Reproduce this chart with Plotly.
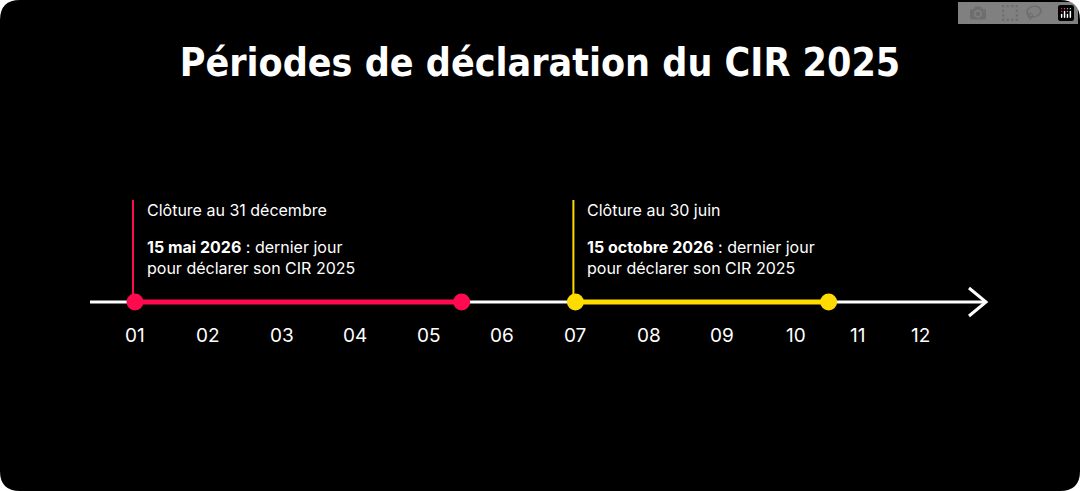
import plotly.graph_objects as go

months = ["01","02","03","04","05","06","07","08","09","10","11","12"]
month_pos = [1,2,3,4,5,6,7,8,9,10,10.85,11.7]
red_period = [1, 5.45]
yellow_period = [7, 10.45]
red_c = "#ff0a4e"
yel_c = "#ffdc00"

x0 = 1 - 135/73.4
x1 = 1 + 945/73.4
fig = go.Figure()
axis_y = 302
fig.add_trace(go.Scatter(x=[x0+90/73.4, x0+984/73.4], y=[axis_y, axis_y], mode="lines",
                         line=dict(color="white", width=3), hoverinfo="skip"))
ax_end = x0+986/73.4
fig.add_trace(go.Scatter(x=[ax_end-17/73.4, ax_end, ax_end-17/73.4], y=[axis_y-14, axis_y, axis_y+14],
                         mode="lines", line=dict(color="white", width=3), hoverinfo="skip"))
for per, c in [(red_period, red_c), (yellow_period, yel_c)]:
    fig.add_trace(go.Scatter(x=per, y=[axis_y]*2, mode="lines+markers",
                             line=dict(color=c, width=5), marker=dict(size=17, color=c),
                             hoverinfo="skip"))
    fig.add_trace(go.Scatter(x=[per[0]-2/73.4]*2, y=[200, axis_y], mode="lines",
                             line=dict(color=c, width=2), hoverinfo="skip"))

for m, p in zip(months, month_pos):
    fig.add_annotation(x=p, y=335, text=m, showarrow=False,
                       font=dict(family="Inter", size=19, color="white"))

txt = dict(family="Inter", size=16, color="white")
fig.add_annotation(x=1+10/73.4, y=210, text="Clôture au 31 décembre", showarrow=False,
                   xanchor="left", font=txt)
fig.add_annotation(x=1+10/73.4, y=257, text="<b>15 mai 2026</b> : dernier jour<br>pour déclarer son CIR 2025",
                   showarrow=False, xanchor="left", align="left", font=txt)
fig.add_annotation(x=7+10/73.4, y=210, text="Clôture au 30 juin", showarrow=False,
                   xanchor="left", font=txt)
fig.add_annotation(x=7+10/73.4, y=257, text="<b>15 octobre 2026</b> : dernier jour<br>pour déclarer son CIR 2025",
                   showarrow=False, xanchor="left", align="left", font=txt)

rx, ry = 20/1080, 20/491
path = (f"M {rx},0 L {1-rx},0 Q 1,0 1,{ry} L 1,{1-ry} Q 1,1 {1-rx},1 L {rx},1 Q 0,1 0,{1-ry} "
        f"L 0,{ry} Q 0,0 {rx},0 Z")
fig.add_shape(type="path", path=path, xref="paper", yref="paper", fillcolor="black",
              line=dict(width=0), layer="below")

fig.update_layout(
    width=1080, height=491, margin=dict(l=0, r=0, t=0, b=0),
    paper_bgcolor="white", plot_bgcolor="rgba(0,0,0,0)", showlegend=False,
    xaxis=dict(range=[x0, x1], visible=False, fixedrange=True),
    yaxis=dict(range=[491, 0], visible=False, fixedrange=True),
    title=dict(text="<b>Périodes de déclaration du CIR 2025</b>", x=0.5, xanchor="center",
               y=1-62/491, yanchor="middle",
               font=dict(family="DejaVu Sans Condensed", size=39, color="white")),
)
fig.write_html("out.html", post_script="document.body.style.margin='0';document.body.style.overflow='hidden';")
